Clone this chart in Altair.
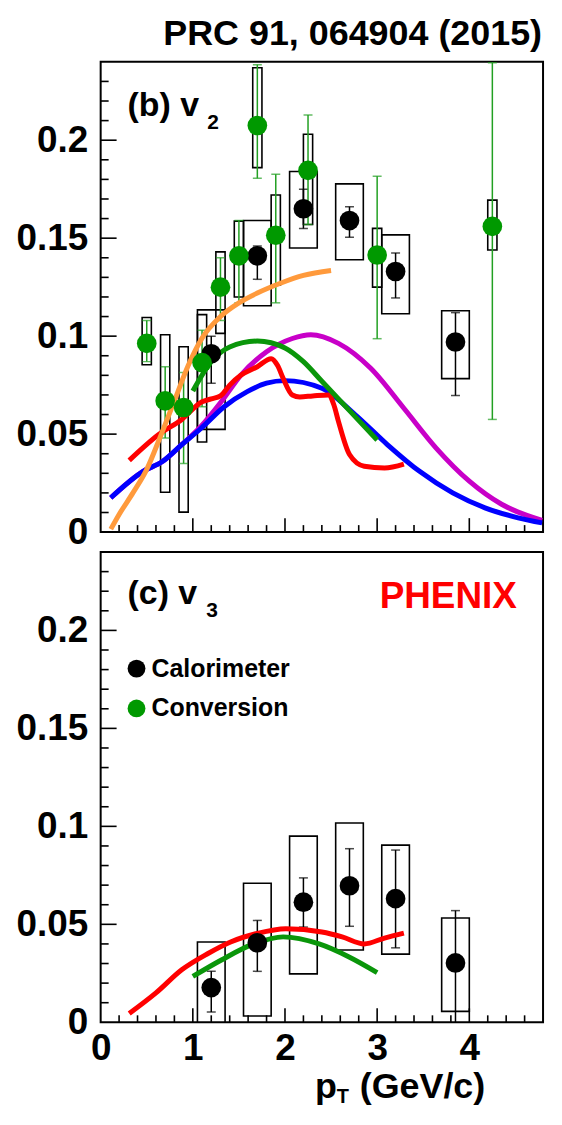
import altair as alt
import pandas as pd

FONT = "Liberation Sans"
W, H = 444, 472

# ---------------- data: panel (b) v2 ----------------
v2_cal_pt = [1.2, 1.7, 2.2, 2.7, 3.2, 3.85]
v2_cal_v = [0.091, 0.141, 0.165, 0.159, 0.133, 0.097]
v2_cal_stat_lo = [0.076, 0.129, 0.155, 0.1505, 0.1195, 0.0697]
v2_cal_stat_hi = [0.100, 0.146, 0.175, 0.166, 0.1424, 0.112]
v2_cal_sys_lo = [0.0524, 0.1155, 0.145, 0.139, 0.1114, 0.0783]
v2_cal_sys_hi = [0.1134, 0.159, 0.184, 0.1777, 0.1517, 0.113]

v2_conv_pt = [0.5, 0.7, 0.9, 1.1, 1.3, 1.5, 1.7, 1.9, 2.25, 3.0, 4.25]
v2_conv_v = [0.0963, 0.067, 0.0636, 0.0865, 0.125, 0.141, 0.2075, 0.1515, 0.1846, 0.1414, 0.156]
v2_conv_stat_lo = [0.087, 0.048, 0.035, 0.064, 0.108, 0.117, 0.1806, 0.117, 0.157, 0.0987, 0.0575]
v2_conv_stat_hi = [0.108, 0.0844, 0.0815, 0.103, 0.140, 0.159, 0.2385, 0.1826, 0.2128, 0.1816, 0.2395]
v2_conv_sys_lo = [0.0854, 0.0203, 0.0102, 0.046, 0.1014, 0.120, 0.186, 0.126, 0.157, 0.125, 0.144]
v2_conv_sys_hi = [0.1095, 0.1007, 0.0946, 0.111, 0.143, 0.1587, 0.237, 0.172, 0.203, 0.155, 0.1694]

orange_pt = [0.11, 0.2, 0.35, 0.5, 0.65, 0.8, 0.95, 1.1, 1.3, 1.5, 1.7, 1.95, 2.2, 2.5]
orange_v = [0.0015, 0.009, 0.020, 0.032, 0.049, 0.067, 0.085, 0.099, 0.110, 0.117, 0.122, 0.127, 0.131, 0.1335]

green2_pt = [1.0, 1.2, 1.4, 1.7, 2.0, 2.2, 2.4, 2.7, 3.0]
green2_v = [0.072, 0.087, 0.0945, 0.0975, 0.094, 0.087, 0.077, 0.062, 0.047]

red2_pt = [0.31, 0.63, 0.88, 1.1, 1.2, 1.3, 1.4, 1.52, 1.7, 1.85, 1.92, 1.98, 2.08, 2.16, 2.3, 2.47,
           2.53, 2.58, 2.7, 2.86, 3.08, 3.29]
red2_v = [0.0366, 0.0498, 0.0575, 0.0665, 0.068, 0.0695, 0.075, 0.080, 0.0844, 0.0885, 0.085, 0.0785,
          0.070, 0.069, 0.0695, 0.070, 0.065, 0.0565, 0.0396, 0.0336, 0.0327, 0.0347]

blue_pt = [0.11, 0.46, 0.67, 0.88, 1.09, 1.34, 1.59, 1.80, 2.0, 2.40, 2.76, 3.11, 3.46, 3.82, 4.17, 4.53, 4.79]
blue_v = [0.0175, 0.031, 0.036, 0.0446, 0.053, 0.064, 0.0717, 0.076, 0.0773, 0.0734, 0.060, 0.0447, 0.031,
          0.020, 0.0124, 0.0073, 0.0047]

magenta_pt = [0.11, 0.46, 0.67, 0.88, 1.09, 1.31, 1.52, 1.80, 2.08, 2.28, 2.58, 2.93, 3.29, 3.64, 4.0, 4.35, 4.79]
magenta_v = [0.0175, 0.031, 0.036, 0.0446, 0.054, 0.0666, 0.080, 0.092, 0.0988, 0.1007, 0.0963, 0.0836,
             0.0632, 0.0429, 0.026, 0.0142, 0.006]

# ---------------- data: panel (c) v3 ----------------
v3_cal_pt = [1.2, 1.7, 2.2, 2.7, 3.2, 3.85]
v3_cal_v = [0.0177, 0.0406, 0.0613, 0.0697, 0.0631, 0.0303]
v3_cal_stat_lo = [0.0052, 0.026, 0.0486, 0.049, 0.038, -0.004]
v3_cal_stat_hi = [0.026, 0.052, 0.0737, 0.0886, 0.0879, 0.057]
v3_cal_sys_lo = [-0.002, 0.0032, 0.0247, 0.0369, 0.0348, 0.0056]
v3_cal_sys_hi = [0.041, 0.071, 0.095, 0.1017, 0.0904, 0.0532]

red3_pt = [0.31, 0.60, 0.88, 1.16, 1.41, 1.70, 2.01, 2.40, 2.62, 2.86, 3.08, 3.29]
red3_v = [0.0045, 0.015, 0.0268, 0.035, 0.041, 0.0454, 0.0478, 0.0461, 0.0436, 0.040, 0.043, 0.0455]

green3_pt = [1.0, 1.31, 1.66, 1.98, 2.37, 2.69, 3.0]
green3_v = [0.0234, 0.0318, 0.040, 0.0436, 0.040, 0.0335, 0.0254]

# ---------------- axes / ticks ----------------
x_label_vals = [0, 1, 2, 3, 4]
y_label_vals = [0, 0.05, 0.1, 0.15, 0.2]
x_major = [1, 2, 3, 4]
x_minor = [0.2, 0.4, 0.6, 0.8, 1.2, 1.4, 1.6, 1.8, 2.2, 2.4, 2.6, 2.8, 3.2, 3.4, 3.6, 3.8, 4.2, 4.4, 4.6]
y_major = [0.05, 0.1, 0.15, 0.2]
y_minor = [0.01, 0.02, 0.03, 0.04, 0.06, 0.07, 0.08, 0.09, 0.11, 0.12, 0.13, 0.14,
           0.16, 0.17, 0.18, 0.19, 0.21, 0.22, 0.23]

legend_labels = ["Calorimeter", "Conversion"]
title_text = "PRC 91, 064904 (2015)"

BLACK = "#000000"
GREEN_PT = "#009900"
GREEN_ERR = "#22a022"
GREEN_LINE = "#0a960a"
ORANGE = "#ff9a3c"
RED = "#ff0000"
BLUE = "#0000ff"
MAGENTA = "#c800c8"

xs = alt.Scale(domain=[0, 4.8], nice=False, zero=False)
ys = alt.Scale(domain=[0, 0.24], nice=False, zero=False)


def x_axis(labels):
    return alt.Axis(values=x_label_vals, labels=labels, ticks=False, domain=False, grid=False, title=None,
                    labelFont=FONT, labelFontSize=37, labelFontWeight="bold", labelColor="black",
                    labelPadding=8, labelFlush=False, labelOverlap=False, format="~g")


y_axis = alt.Axis(values=y_label_vals, ticks=False, domain=False, grid=False, title=None,
                  labelFont=FONT, labelFontSize=37, labelFontWeight="bold", labelColor="black",
                  labelPadding=13, labelFlush=False, labelOverlap=False, format="~g")


def X(field, labels):
    return alt.X(field, type="quantitative", scale=xs, axis=x_axis(labels))


def Y(field):
    return alt.Y(field, type="quantitative", scale=ys, axis=y_axis)


def points_df(pt, v, slo, shi, ylo, yhi):
    return pd.DataFrame({"pt": pt, "v": v, "slo": slo, "shi": shi, "ylo": ylo, "yhi": yhi})


def data_layers(df, color, errcolor, half, labels):
    base = alt.Chart(df)
    box = base.transform_calculate(x1=f"datum.pt - {half}", x2=f"datum.pt + {half}").mark_rect(
        fill=None, stroke="black", strokeWidth=1.6, clip=True).encode(
        x=X("x1", labels), x2="x2:Q", y=Y("ylo"), y2="yhi:Q")
    bar = base.mark_rule(color=errcolor, strokeWidth=1.5, clip=True).encode(
        x=X("pt", labels), y=Y("slo"), y2="shi:Q")
    cap_lo = base.mark_tick(color=errcolor, orient="horizontal", size=9, thickness=1.5, clip=True).encode(
        x=X("pt", labels), y=Y("slo"))
    cap_hi = base.mark_tick(color=errcolor, orient="horizontal", size=9, thickness=1.5, clip=True).encode(
        x=X("pt", labels), y=Y("shi"))
    dots = base.mark_circle(color=color, opacity=1, size=390).encode(x=X("pt", labels), y=Y("v"))
    return [box, bar, cap_lo, cap_hi], [dots]


def curve(pt, v, color, labels):
    return alt.Chart(pd.DataFrame({"pt": pt, "v": v})).mark_line(
        color=color, strokeWidth=5, interpolate="monotone", strokeCap="butt").encode(
        x=X("pt", labels), y=Y("v"))


def tick_layers(labels):
    ly = []
    ly.append(alt.Chart(pd.DataFrame({"v": y_major})).mark_rule(color="black", strokeWidth=1.6).encode(
        y=Y("v"), x=alt.value(0), x2=alt.value(16)))
    ly.append(alt.Chart(pd.DataFrame({"v": y_minor})).mark_rule(color="black", strokeWidth=1.6).encode(
        y=Y("v"), x=alt.value(0), x2=alt.value(8)))
    ly.append(alt.Chart(pd.DataFrame({"pt": x_major})).mark_rule(color="black", strokeWidth=1.6).encode(
        x=X("pt", labels), y=alt.value(H), y2=alt.value(H - 14)))
    ly.append(alt.Chart(pd.DataFrame({"pt": x_minor})).mark_rule(color="black", strokeWidth=1.6).encode(
        x=X("pt", labels), y=alt.value(H), y2=alt.value(H - 7)))
    return ly


one = alt.Data(values=[{}])


def txt(text, x, y, size, color="black", font=FONT, align="left", weight="bold"):
    return alt.Chart(one).mark_text(text=text, font=font, fontSize=size, fontWeight=weight, color=color,
                                    align=align, baseline="alphabetic").encode(
        x=alt.value(x), y=alt.value(y))


# ---------------- top panel ----------------
cal2 = points_df(v2_cal_pt, v2_cal_v, v2_cal_stat_lo, v2_cal_stat_hi, v2_cal_sys_lo, v2_cal_sys_hi)
conv2 = points_df(v2_conv_pt, v2_conv_v, v2_conv_stat_lo, v2_conv_stat_hi, v2_conv_sys_lo, v2_conv_sys_hi)
cal2_back, cal2_dots = data_layers(cal2, BLACK, BLACK, 0.15, False)
conv2_back, conv2_dots = data_layers(conv2, GREEN_PT, GREEN_ERR, 0.05, False)

top_layers = (tick_layers(False) + cal2_back + conv2_back + [
    curve(magenta_pt, magenta_v, MAGENTA, False),
    curve(blue_pt, blue_v, BLUE, False),
    curve(red2_pt, red2_v, RED, False),
    curve(green2_pt, green2_v, GREEN_LINE, False),
    curve(orange_pt, orange_v, ORANGE, False),
] + cal2_dots + conv2_dots + [
    txt("(b) v", 27, 54, 34),
    txt("2", 107, 67, 21),
    txt(title_text, 443, -17, 36, align="right"),
])
top = alt.layer(*top_layers).properties(width=W, height=H)

# ---------------- bottom panel ----------------
cal3 = points_df(v3_cal_pt, v3_cal_v, v3_cal_stat_lo, v3_cal_stat_hi, v3_cal_sys_lo, v3_cal_sys_hi)
cal3_back, cal3_dots = data_layers(cal3, BLACK, BLACK, 0.15, True)

legend_layers = []
for i, (lab, col) in enumerate(zip(legend_labels, [BLACK, GREEN_PT])):
    legend_layers.append(alt.Chart(one).mark_circle(color=col, opacity=1, size=320).encode(
        x=alt.value(36), y=alt.value(117 + 40 * i)))
    legend_layers.append(txt(lab, 51, 125 + 40 * i, 25))

bottom_layers = (tick_layers(True) + cal3_back + [
    curve(red3_pt, red3_v, RED, True),
    curve(green3_pt, green3_v, GREEN_LINE, True),
] + cal3_dots + legend_layers + [
    txt("(c) v", 27, 52, 34),
    txt("3", 106, 65, 21),
    txt("PHENIX", 280, 56, 37, color="#ff0000"),
    txt("p", 215, 548, 36),
    txt("T", 237, 553, 20),
    txt("(GeV/c)", 260, 548, 36),
])
bottom = alt.layer(*bottom_layers).properties(width=W, height=H)

chart = alt.vconcat(top, bottom, spacing=20, bounds="flush").properties(
    padding={"left": 6, "top": 5, "right": 0, "bottom": 0}
).configure_view(stroke="black", strokeWidth=2)

chart.save("out.html", embed_options={"renderer": "svg", "actions": False})
